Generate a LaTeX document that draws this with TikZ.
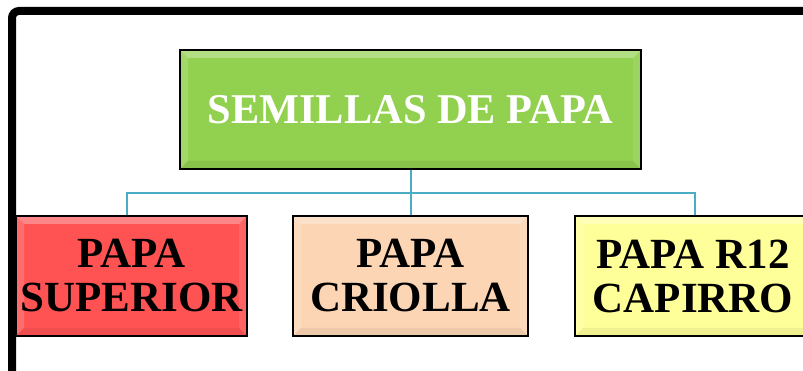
\documentclass[tikz,border=0pt]{standalone}
\usepackage{fontspec}
\setmainfont{Liberation Serif}
\definecolor{cgreen}{HTML}{92D050}
\definecolor{cred}{HTML}{FF5353}
\definecolor{cpeach}{HTML}{FCD5B4}
\definecolor{cyellow}{HTML}{FFFF99}
\definecolor{clink}{HTML}{4BACC6}
\begin{document}
\begin{tikzpicture}[x=1pt,y=1pt,
  bevel/.style={path picture={
    \fill[white,opacity=0.3] (path picture bounding box.north west) -- (path picture bounding box.north east) -- ([xshift=-8pt,yshift=-8pt]path picture bounding box.north east) -- ([xshift=8pt,yshift=-8pt]path picture bounding box.north west) -- cycle;
    \fill[white,opacity=0.15] (path picture bounding box.north west) -- (path picture bounding box.south west) -- ([xshift=8pt,yshift=8pt]path picture bounding box.south west) -- ([xshift=8pt,yshift=-8pt]path picture bounding box.north west) -- cycle;
    \fill[black,opacity=0.06] (path picture bounding box.south west) -- (path picture bounding box.south east) -- ([xshift=-8pt,yshift=8pt]path picture bounding box.south east) -- ([xshift=8pt,yshift=8pt]path picture bounding box.south west) -- cycle;
    \fill[white,opacity=0.1] (path picture bounding box.north east) -- (path picture bounding box.south east) -- ([xshift=-8pt,yshift=8pt]path picture bounding box.south east) -- ([xshift=-8pt,yshift=-8pt]path picture bounding box.north east) -- cycle;
  }},
  box/.style={draw=black,line width=1.6pt,bevel,inner sep=0pt,align=center,
    font=\fontsize{43}{44}\selectfont\bfseries},
  link/.style={draw=clink,line width=2pt}]
\useasboundingbox (0,0) rectangle (803,371);
\fill[white] (0,0) rectangle (803,371);
% frame
\draw[line width=8pt,rounded corners=7pt] (12,-20) -- (12,360) -- (830,360);
% nodes
\node[box,fill=cgreen,text=white,minimum width=461,minimum height=119,font=\fontsize{42.4}{44}\selectfont\bfseries] (top) at (410.5,261.5) {SEMILLAS DE PAPA};
\node[box,fill=cred,minimum width=231,minimum height=120] (sup) at (131.5,95) {PAPA\\SUPERIOR};
\node[box,fill=cpeach,minimum width=235,minimum height=120] (cri) at (410.5,95) {PAPA\\CRIOLLA};
\node[box,fill=cyellow,minimum width=236,minimum height=120] (cap) at (693,95) {PAPA R12\\CAPIRRO};
% connectors
\coordinate (bus) at (411,178);
\draw[link] (top.south -| bus) -- (bus);
\draw[link] (bus) -| ([xshift=-4.5pt]sup.north);
\draw[link] (bus) -| ([xshift=2pt]cap.north);
\draw[link] (bus) -- (cri.north -| bus);
\end{tikzpicture}
\end{document}
